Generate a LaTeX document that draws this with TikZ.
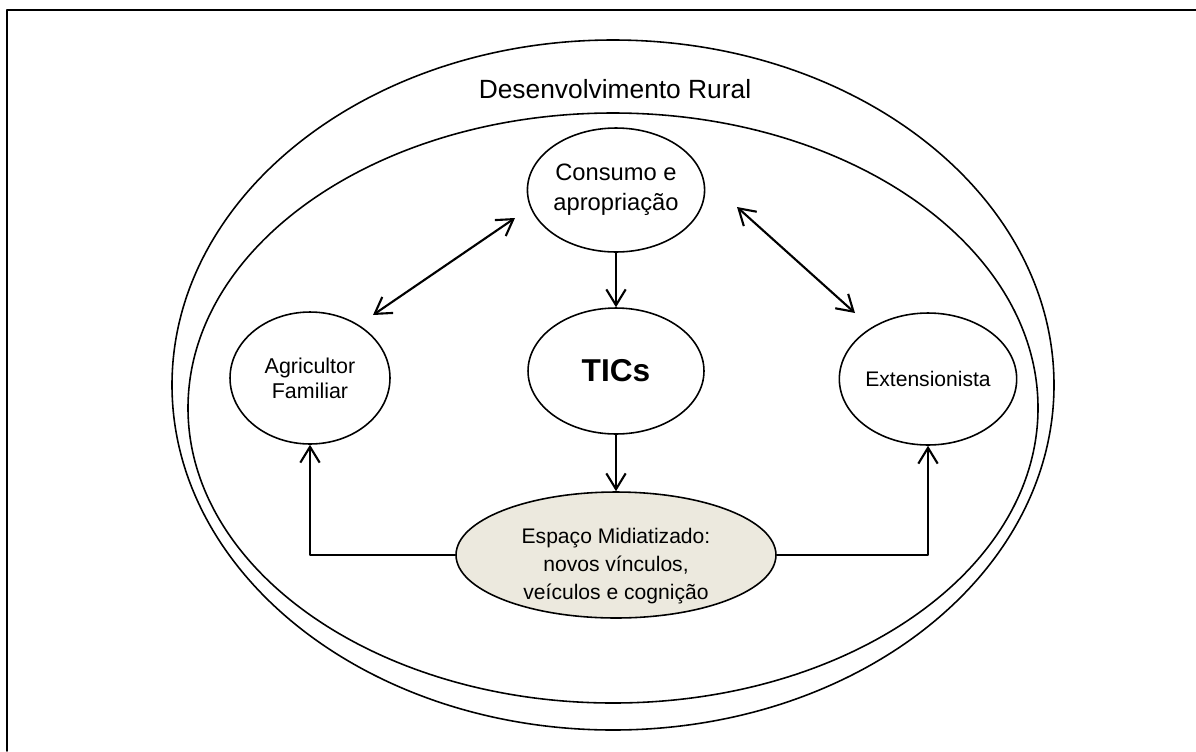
\documentclass[tikz,border=0pt]{standalone}
\usepackage{fontspec}
\setmainfont{Liberation Sans}
\usetikzlibrary{shapes.geometric,arrows.meta}
\definecolor{midiafill}{RGB}{236,233,222}

\begin{document}
\begin{tikzpicture}[x=0.02cm, y=-0.02cm, line cap=round, line join=round,
	bubble/.style={draw, ellipse, line width=0.9pt, inner sep=0pt, align=center},
	arr/.style={line width=1.2pt, -{Straight Barb[length=9pt,width=11pt]}},
	biarr/.style={line width=1.2pt, {Straight Barb[length=9pt,width=11pt]}-{Straight Barb[length=9pt,width=11pt]}}]
	
	% ----------------------------
	% 0) Canvas and frame
	% ----------------------------
	\useasboundingbox (0,0) rectangle (1196,751);
	\draw[line width=1pt] (7,751) -- (7,10) -- (1196,10);
	
	% ----------------------------
	% 1) Rural development (two big ellipses)
	% ----------------------------
	\draw[line width=0.9pt] (613,385) ellipse [x radius=441, y radius=345];
	\draw[line width=0.9pt] (613,408) ellipse [x radius=425, y radius=295];
	\node[anchor=base, font=\fontsize{15}{18}\selectfont] (titulo) at (615,98) {Desenvolvimento Rural};
	
	% ----------------------------
	% 2) Actors and TICs
	% ----------------------------
	\def\cx{616}
	\node[bubble, minimum width=3.52cm, minimum height=2.48cm,
	font=\fontsize{13.5}{17}\selectfont] (cons) at (\cx,190) {Consumo e\\apropria\c{c}\~ao};
	\node[bubble, minimum width=3.52cm, minimum height=2.52cm,
	font=\fontsize{18}{21}\selectfont\bfseries] (tics) at (\cx,371) {TICs};
	\node[bubble, minimum width=3.2cm, minimum height=2.64cm,
	font=\fontsize{12.2}{14.2}\selectfont] (agri) at (310,378) {Agricultor\\Familiar};
	\node[bubble, minimum width=3.36cm, minimum height=2.64cm,
	font=\fontsize{12}{14}\selectfont] (ext) at (928,379) {Extensionista};
	
	% ----------------------------
	% 3) Mediatised space (filled)
	% ----------------------------
	\node[bubble, fill=midiafill, minimum width=6.4cm, minimum height=2.52cm] (espaco) at (\cx,555) {};
	\node[align=center, font=\fontsize{12}{16}\selectfont] (espacotxt) at (\cx,566)
	{Espa\c{c}o Midiatizado:\\novos v\'inculos,\\ve\'iculos e cogni\c{c}\~ao};
	
	% ----------------------------
	% 4) Arrows
	% ----------------------------
	\draw[arr] (cons.south) -- (tics.north);
	\draw[arr] (tics.south) -- (espaco.north);
	\draw[arr] (espaco.west) -| (agri.south);
	\draw[arr] (espaco.east) -| (ext.south);
	
	\coordinate (la) at (373,315);
	\coordinate (lb) at (515,218);
	\coordinate (ra) at (737,207);
	\coordinate (rb) at (855,313);
	\draw[biarr] (la) -- (lb);
	\draw[biarr] (ra) -- (rb);
	
\end{tikzpicture}
\end{document}
